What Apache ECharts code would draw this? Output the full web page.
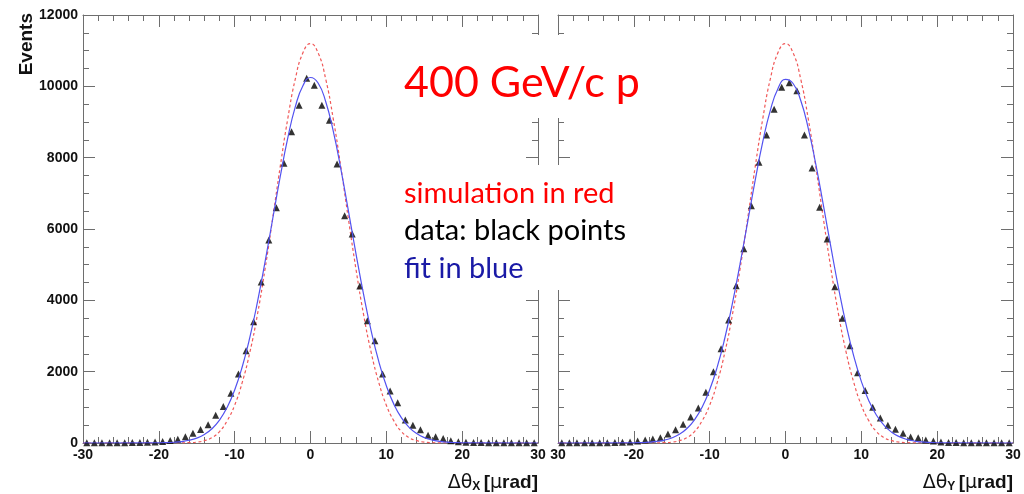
<!DOCTYPE html>
<html><head><meta charset="utf-8">
<script src="https://cdn.jsdelivr.net/npm/echarts@6/dist/echarts.min.js"></script>
<style>html,body{margin:0;padding:0;background:#fff}#c{width:1024px;height:494px}</style>
</head><body><div id="c"></div>
<script>
// bin centres (µrad)
const binCenters = [-29.5,-28.5,-27.5,-26.5,-25.5,-24.5,-23.5,-22.5,-21.5,-20.5,
  -19.5,-18.5,-17.5,-16.5,-15.5,-14.5,-13.5,-12.5,-11.5,-10.5,
  -9.5,-8.5,-7.5,-6.5,-5.5,-4.5,-3.5,-2.5,-1.5,-0.5,
  0.5,1.5,2.5,3.5,4.5,5.5,6.5,7.5,8.5,9.5,
  10.5,11.5,12.5,13.5,14.5,15.5,16.5,17.5,18.5,19.5,
  20.5,21.5,22.5,23.5,24.5,25.5,26.5,27.5,28.5,29.5];
// data points, Δθx panel
const dataX = [5,5,5,8,8,10,12,15,20,30,
  45,70,105,177,272,380,515,775,1025,1394,
  1935,2588,3401,4514,5692,6598,7843,8729,9469,10226,
  10030,9469,9048,7823,6373,5860,4402,3429,2868,1935,
  1460,1130,645,495,375,220,175,125,65,37,
  20,15,12,10,8,8,5,5,5,5];
// data points, Δθy panel
const dataY = [5,5,5,5,8,8,10,12,18,30,
  56,84,112,150,252,375,524,730,980,1421,
  2000,2645,3449,4411,5449,6654,7871,8636,9357,9974,
  10103,9879,8636,7711,6609,5720,4383,3496,2728,1971,
  1475,1005,700,495,384,272,170,145,84,56,
  28,15,12,10,8,8,5,5,5,5];
// curve sample positions
const curveX = [-30,-20,-19,-18,-17,-16,-15,-14,-13,-12,-11,-10,-9,-8,-7,-6,-5,-4,-3,-2,-1,
  0,1,2,3,4,5,6,7,8,9,10,11,12,13,14,15,16,17,18,19,20,30];
const fitX = [0,5,10,21,41,76,137,238,399,642,995,1487,2139,2962,3948,5070,6266,7458,8546,9429,10018,
  10248,10094,9574,8743,7686,6508,5304,4164,3146,2289,1604,1083,703,440,265,153,86,46,24,12,6,0];
const simX = [0,0,0,2,5,10,25,65,150,320,620,1060,1700,2540,3600,4870,6280,7740,9090,10210,10940,
  11200,10940,10210,9090,7740,6280,4870,3600,2540,1700,1060,620,320,150,65,25,10,5,2,0,0,0];
const fitY = [0,5,11,22,43,80,142,245,407,651,1004,1491,2133,2944,3914,5014,6187,7361,8441,9327,9932,
  10193,10080,9608,8823,7810,6662,5475,4338,3312,2437,1727,1180,777,494,302,178,101,55,29,15,7,0];
const simY = [0,0,0,2,5,10,25,65,150,320,620,1060,1700,2540,3600,4870,6280,7740,9090,10210,10940,
  11200,10940,10210,9090,7740,6280,4870,3600,2540,1700,1060,620,320,150,65,25,10,5,2,0,0,0];
// tick labels
const xTickValues = [-30,-20,-10,0,10,20,30];
const xTickLabelsLeft = ['-30','-20','-10','0','10','20','30'];
const xTickLabelsRight = ['30','-20','-10','0','10','20','30'];
const yTickValues = [0,2000,4000,6000,8000,10000,12000];
const yTickLabels = ['0','2000','4000','6000','8000','10000','12000'];

const pair = (xs, ys) => xs.map((x, i) => [x, ys[i]]);
const axisCol = '#6e6e6e';
const labFont = {fontFamily:'Liberation Sans', fontWeight:'bold', fontSize:14, color:'#111'};

function xAx(grid, pos, labels) {
  return {
    type:'value', gridIndex:grid, position:pos, min:-30, max:30, interval:10,
    axisLine:{onZero:false, lineStyle:{color:axisCol, width:1}},
    axisTick:{inside:true, length:12, lineStyle:{color:axisCol}},
    minorTick:{show:true, splitNumber:5, length:6, lineStyle:{color:axisCol}},
    splitLine:{show:false},
    axisLabel: labels ? Object.assign({show:true, margin:5,
      formatter:v => labels[xTickValues.indexOf(v)] ?? ''}, labFont) : {show:false}
  };
}
function yAx(grid, pos, labels) {
  return {
    type:'value', gridIndex:grid, position:pos, min:0, max:12000, interval:2000,
    axisLine:{onZero:false, lineStyle:{color:axisCol, width:1}},
    axisTick:{inside:true, length:12, lineStyle:{color:axisCol}},
    minorTick:{show:true, splitNumber:4, length:6, lineStyle:{color:axisCol}},
    splitLine:{show:false},
    axisLabel: labels ? Object.assign({show:true, margin:5,
      formatter:v => labels[yTickValues.indexOf(v)] ?? ''}, labFont) : {show:false}
  };
}

const redCol = '#f05858', blueCol = '#5252f0';
function panelSeries(ax, data, fit, sim) {
  return [
    {type:'scatter', xAxisIndex:ax, yAxisIndex:ax, data:pair(binCenters, data),
     symbol:'triangle', symbolSize:7, itemStyle:{color:'#000'}, z:3},
    {type:'line', xAxisIndex:ax, yAxisIndex:ax, data:pair(curveX, sim), smooth:true,
     showSymbol:false, lineStyle:{color:redCol, width:1.2, type:[3,2.5]}, z:2},
    {type:'line', xAxisIndex:ax, yAxisIndex:ax, data:pair(curveX, fit), smooth:true,
     showSymbol:false, lineStyle:{color:blueCol, width:1.2}, z:4}
  ];
}

const titleFont = 'Lato';
const chart = echarts.init(document.getElementById('c'), null, {renderer:'canvas'});
chart.setOption({
  animation:false,
  backgroundColor:'#fff',
  grid:[
    {left:83, top:15, width:455, height:428},
    {left:558, top:15, width:455, height:428}
  ],
  xAxis:[xAx(0,'bottom',xTickLabelsLeft), xAx(0,'top',null), xAx(1,'bottom',xTickLabelsRight), xAx(1,'top',null)],
  yAxis:[yAx(0,'left',yTickLabels), yAx(0,'right',null), yAx(1,'left',null), yAx(1,'right',null)],
  series:[...panelSeries(0, dataX, fitX, simX), ...panelSeries(2, dataY, fitY, simY)],
  graphic:[
    {type:'rect', z:100, shape:{x:395, y:35, width:255, height:83}, style:{fill:'#fff'}},
    {type:'rect', z:100, shape:{x:395, y:165, width:245, height:125}, style:{fill:'#fff'}},
    {type:'text', z:101, x:404, y:83, style:{text:'400 GeV/c p', fill:'#ff0000',
      font:'43px ' + titleFont, textAlign:'left', textVerticalAlign:'middle'}},
    {type:'text', z:101, x:404, y:194, style:{text:'simulation in red', fill:'#ff0000',
      font:'29px ' + titleFont, textAlign:'left', textVerticalAlign:'middle'}},
    {type:'text', z:101, x:404, y:231, style:{text:'data: black points', fill:'#000',
      font:'29px ' + titleFont, textAlign:'left', textVerticalAlign:'middle'}},
    {type:'text', z:101, x:404, y:269, style:{text:'fit in blue', fill:'#1a1aa6',
      font:'29px ' + titleFont, textAlign:'left', textVerticalAlign:'middle'}},
    {type:'text', z:101, x:27, y:13, rotation:Math.PI/2, style:{text:'Events', fill:'#111',
      font:'bold 19px Liberation Sans', textAlign:'right', textVerticalAlign:'middle'}},
    {type:'text', z:101, x:538, y:483, style:{
      text:'{g|Δθ}{s|X} {b|[}{g|µ}{b|rad]}', textAlign:'right', textVerticalAlign:'middle',
      rich:{g:{font:'19px DejaVu Sans', fill:'#111'}, s:{font:'bold 12px Liberation Sans', fill:'#111', padding:[8,0,0,0]},
            b:{font:'bold 19px Liberation Sans', fill:'#111'}}}},
    {type:'text', z:101, x:1013, y:483, style:{
      text:'{g|Δθ}{s|Y} {b|[}{g|µ}{b|rad]}', textAlign:'right', textVerticalAlign:'middle',
      rich:{g:{font:'19px DejaVu Sans', fill:'#111'}, s:{font:'bold 12px Liberation Sans', fill:'#111', padding:[8,0,0,0]},
            b:{font:'bold 19px Liberation Sans', fill:'#111'}}}}
  ]
});
</script></body></html>
